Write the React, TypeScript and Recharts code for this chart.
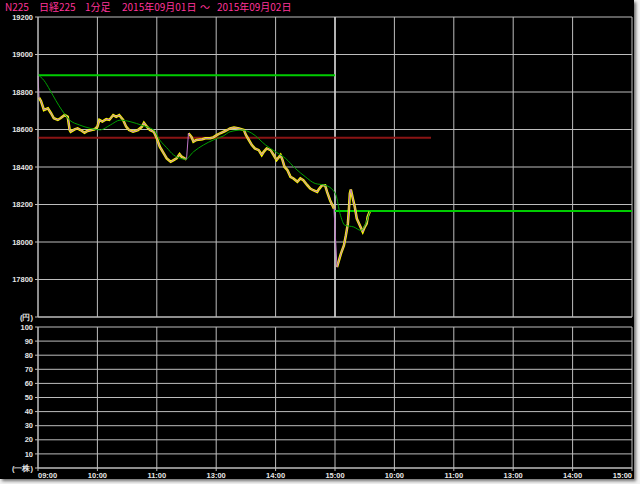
import { CartesianGrid, Line, LineChart, ReferenceLine, XAxis, YAxis } from 'recharts'

// 1分足 (minutes of trading from 09:00 on 09/01; day 2 starts at 300)
const priceMinutes = [
  0, 1, 3, 6, 10, 13, 16, 20, 23, 27, 30, 32, 33, 37, 40, 43, 47, 50, 54, 57,
  60, 62, 65, 69, 72, 76, 79, 82, 86, 89, 92, 96, 101, 105, 107, 110, 113, 117, 120, 123,
  127, 130, 134, 137, 140, 143, 145, 148, 150, 152, 155, 157, 160, 166, 169, 174, 177, 181, 184, 189,
  192, 194, 198, 203, 208, 210, 213, 216, 219, 223, 226, 228, 231, 235, 238, 241, 245, 247, 249, 252,
  255, 258, 262, 265, 268, 272, 275, 278, 282, 283, 285, 287, 290, 292, 295, 299,
  302, 304, 306, 309, 311, 313, 314, 315, 316, 318, 320, 322, 325, 327, 328, 330, 332, 333, 335,
]
const prices = [
  18886, 18770, 18752, 18704, 18713, 18688, 18660, 18651, 18661, 18677, 18668, 18597, 18588, 18601, 18606, 18597, 18583, 18592, 18597, 18601,
  18615, 18651, 18642, 18655, 18651, 18677, 18668, 18677, 18651, 18615, 18597, 18588, 18597, 18615, 18636, 18615, 18597, 18588, 18553, 18508,
  18473, 18446, 18428, 18437, 18446, 18469, 18455, 18446, 18441, 18580, 18561, 18535, 18544, 18548, 18553, 18553, 18558, 18571, 18580, 18592,
  18600, 18606, 18610, 18606, 18597, 18571, 18544, 18517, 18499, 18490, 18464, 18481, 18499, 18490, 18464, 18437, 18464, 18437, 18401, 18383,
  18348, 18339, 18321, 18339, 18330, 18303, 18285, 18276, 18267, 18276, 18290, 18303, 18303, 18267, 18223, 18178,
  17866, 17902, 17938, 17982, 18036, 18098, 18170, 18259, 18280, 18232, 18187, 18125, 18089, 18066, 18054, 18080, 18098, 18134, 18161,
]

// moving average
const maMinutes = [
  0, 6, 12, 18, 24, 32, 42, 53, 63, 73, 83, 93, 106, 117, 123, 130, 137, 144, 149, 157,
  167, 177, 187, 194, 206, 216, 230, 240, 250, 260, 270, 280, 290, 298, 301, 305, 310, 319, 326, 331, 335,
]
const maValues = [
  18891, 18862, 18811, 18755, 18704, 18650, 18624, 18606, 18598, 18624, 18650, 18642, 18620, 18597, 18544, 18503, 18464, 18446, 18441, 18481,
  18517, 18544, 18565, 18588, 18597, 18580, 18517, 18481, 18446, 18392, 18348, 18312, 18303, 18276, 18250, 18153, 18089, 18080, 18062, 18098, 18161,
]

// yellow candles are split at the lunch break and the day change
const sessions = [
  [1, 150],
  [152, 299],
  [302, 340],
]

const day1Level = 18890
const midLevel = 18556
const midLevelEnd = 397
const day2Level = 18166

const timeTicks = [0, 60, 120, 180, 240, 300, 360, 420, 480, 540, 600]
const timeLabels = ['09:00', '10:00', '11:00', '13:00', '14:00', '15:00', '10:00', '11:00', '13:00', '14:00', '15:00']
const priceTicks = [17600, 17800, 18000, 18200, 18400, 18600, 18800, 19000, 19200]
const lowerTicks = [0, 10, 20, 30, 40, 50, 60, 70, 80, 90, 100]

const rows = Array.from(new Set([...priceMinutes, ...maMinutes]))
  .sort((a, b) => a - b)
  .map((m) => {
    const row: any = { m }
    const pi = priceMinutes.indexOf(m)
    const mi = maMinutes.indexOf(m)
    if (pi >= 0) {
      row.price = prices[pi]
      sessions.forEach(([a, b], k) => {
        if (m >= a && m <= b) row['s' + k] = prices[pi]
      })
    }
    if (mi >= 0) row.ma = maValues[mi]
    return row
  })

const GRID = '#bdbdbd'
const tickStyle = { fill: '#e6e6e6', fontSize: 7.5, fontWeight: 'bold', fontFamily: 'Liberation Sans, Arial' } as any

const TimeTick = ({ x, y, payload }: any) => {
  const i = timeTicks.indexOf(payload.value)
  const anchor = i === 0 ? 'start' : i === timeTicks.length - 1 ? 'end' : 'middle'
  return (
    <text x={x} y={y} dy="0.71em" textAnchor={anchor} {...tickStyle}>
      {timeLabels[i]}
    </text>
  )
}

const titleParts: [number, string][] = [
  [5, 'N225'],
  [39, '日経225'],
  [85, '1分足'],
  [122, '2015年09月01日'],
  [200, '～'],
  [217, '2015年09月02日'],
]

export default function App() {
  return (
    <div style={{ position: 'absolute', left: 0, top: 0, width: 640, height: 484, background: '#f2f2f2', overflow: 'hidden' }}>
      <div style={{ position: 'absolute', left: 0, top: 0, width: 634, height: 479, background: '#000', boxShadow: '2px 2px 3px rgba(0,0,0,0.55)' }} />
      {titleParts.map(([x, t]) => (
        <div
          key={x}
          style={{
            position: 'absolute', left: x, top: 0, lineHeight: '13px', fontSize: 10,
            color: '#ff3399', fontFamily: '"Noto Sans CJK JP", sans-serif', whiteSpace: 'nowrap',
          }}
        >
          {t}
        </div>
      ))}

      <div style={{ position: 'absolute', left: 0, top: 0 }}>
        <LineChart width={640} height={326} data={rows} margin={{ top: 17, right: 8, bottom: 9, left: 0 }}>
          <CartesianGrid stroke={GRID} />
          <XAxis dataKey="m" type="number" domain={[0, 600]} ticks={timeTicks} hide />
          <YAxis
            type="number"
            domain={[17600, 19200]}
            ticks={priceTicks}
            interval={0}
            allowDataOverflow
            width={38}
            tickSize={3}
            stroke={GRID}
            tick={tickStyle}
            tickFormatter={(v: number) => (v === 17600 ? '(円)' : String(v))}
          />
          <ReferenceLine y={17600} stroke={GRID} />
          <ReferenceLine x={300} stroke="#cfcfcf" strokeWidth={1.5} />
          <ReferenceLine segment={[{ x: 0, y: day1Level }, { x: 300, y: day1Level }]} stroke="#00cc00" strokeWidth={2} />
          <ReferenceLine segment={[{ x: 0, y: midLevel }, { x: midLevelEnd, y: midLevel }]} stroke="#8a1414" strokeWidth={2} />
          <ReferenceLine segment={[{ x: 300, y: day2Level }, { x: 600, y: day2Level }]} stroke="#00cc00" strokeWidth={2} />
          {sessions.map((_, k) => (
            <Line key={k} dataKey={'s' + k} stroke="#ffff00" strokeWidth={2.5} dot={false} connectNulls isAnimationActive={false} />
          ))}
          <Line dataKey="price" stroke="#c078c8" strokeWidth={1} dot={false} connectNulls isAnimationActive={false} />
          <Line dataKey="ma" type="monotone" stroke="#00a000" strokeWidth={1} dot={false} connectNulls isAnimationActive={false} />
        </LineChart>
      </div>

      <div style={{ position: 'absolute', left: 0, top: 309 }}>
        <LineChart width={640} height={172} data={[{ m: 0 }, { m: 600 }]} margin={{ top: 18, right: 8, bottom: 0, left: 0 }}>
          <CartesianGrid stroke={GRID} />
          <XAxis
            dataKey="m"
            type="number"
            domain={[0, 600]}
            ticks={timeTicks}
            interval={0}
            height={13}
            tickSize={3}
            stroke={GRID}
            tick={<TimeTick />}
          />
          <YAxis
            type="number"
            domain={[0, 100]}
            ticks={lowerTicks}
            interval={0}
            allowDataOverflow
            width={38}
            tickSize={3}
            stroke={GRID}
            tick={tickStyle}
            tickFormatter={(v: number) => (v === 0 ? '(一株)' : String(v))}
          />
          <Line dataKey="v" stroke="#ffff00" dot={false} isAnimationActive={false} />
        </LineChart>
      </div>
    </div>
  )
}
